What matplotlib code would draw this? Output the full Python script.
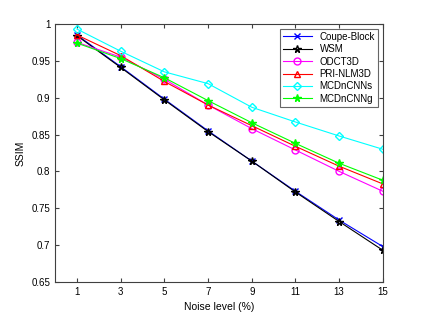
import matplotlib
matplotlib.use("Agg")
import matplotlib.pyplot as plt
import numpy as np

plt.rcParams['font.family'] = ['Liberation Sans', 'DejaVu Sans']

noise = [1, 3, 5, 7, 9, 11, 13, 15]
coupe_block = [0.985, 0.942, 0.898, 0.855, 0.814, 0.773, 0.734, 0.698]
wsm = [0.984, 0.941, 0.897, 0.854, 0.814, 0.772, 0.732, 0.693]
odct3d = [0.975, 0.955, 0.925, 0.890, 0.858, 0.829, 0.800, 0.773]
pri_nlm3d = [0.985, 0.957, 0.922, 0.890, 0.862, 0.834, 0.807, 0.783]
mcdncnns = [0.993, 0.963, 0.935, 0.919, 0.887, 0.867, 0.848, 0.830]
mcdncnng = [0.974, 0.953, 0.927, 0.896, 0.866, 0.838, 0.811, 0.788]

fig = plt.figure(figsize=(4.24, 3.19), dpi=100)
ax = fig.add_axes([0.13, 0.116, 0.773, 0.809])

ms = 4.5
ax.plot(noise, coupe_block, color="blue", marker="x", ms=ms, lw=0.8, label="Coupe-Block")
ax.plot(noise, wsm, color="black", marker="*", ms=ms + 1, lw=0.8, mfc="none", label="WSM")
ax.plot(noise, odct3d, color="magenta", marker="o", ms=ms + 0.5, lw=0.8, mfc="none", label="ODCT3D")
ax.plot(noise, pri_nlm3d, color="red", marker="^", ms=ms + 0.5, lw=0.8, mfc="none", label="PRI-NLM3D")
ax.plot(noise, mcdncnns, color="cyan", marker="D", ms=ms - 0.5, lw=0.8, mfc="none", label="MCDnCNNs")
ax.plot(noise, mcdncnng, color="lime", marker="*", ms=ms + 1, lw=0.8, label="MCDnCNNg")

ax.set_xlim(0, 15)
ax.set_ylim(0.65, 1)
ax.set_xticks(noise)
ax.set_yticks(np.arange(0.65, 1.001, 0.05))
ax.set_yticklabels(["0.65", "0.7", "0.75", "0.8", "0.85", "0.9", "0.95", "1"])
ax.tick_params(direction="in", top=True, right=True, labelsize=7, length=3, color="#404040")
for sp in ax.spines.values():
    sp.set_color("#404040")
ax.set_xlabel("Noise level (%)", fontsize=7.5)
ax.set_ylabel("SSIM", fontsize=7.5)

leg = ax.legend(loc="upper right", fontsize=7, frameon=True, fancybox=False,
                handlelength=3, borderpad=0.3, labelspacing=0.25)
leg.get_frame().set_edgecolor("#404040")
leg.get_frame().set_linewidth(0.8)

plt.savefig("out.png", dpi=100)
